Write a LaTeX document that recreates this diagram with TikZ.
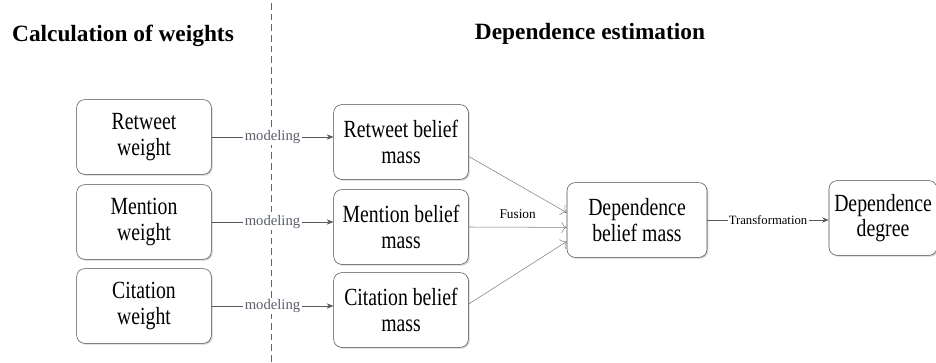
\documentclass[tikz,border=0pt]{standalone}
\usepackage{fontspec}
\setmainfont{Liberation Serif}
\newfontfamily\boxfont[FakeStretch=0.8]{Liberation Serif}
\usetikzlibrary{arrows.meta,shadows}

\definecolor{lblgray}{rgb}{0.35,0.37,0.42}

\begin{document}
\begin{tikzpicture}
  [
    x=0.75pt, y=-0.75pt,
    block/.style =
      {draw=black!70, fill=white, rounded corners=6pt, align=center,
       minimum width=101pt, minimum height=56pt, inner sep=2pt,
       font=\boxfont\fontsize{18.5}{19}\selectfont,
       drop shadow={shadow xshift=1pt, shadow yshift=-1pt, opacity=.35}},
    title/.style =
      {font=\bfseries\fontsize{17.5}{20}\selectfont},
    lbl/.style =
      {fill=white, inner sep=1pt, text=lblgray, font=\fontsize{11}{12}\selectfont},
    link/.style =
      {draw=black!65, -{Stealth[length=5pt, width=4pt]}}
  ]
  \useasboundingbox (0,0) rectangle (936,363);

  \node [title] at (123,36) (tl) {Calculation of weights};
  \node [title] at (590,34) (tr) {Dependence estimation};

  \draw [black!60, dash pattern=on 5pt off 3pt] (271,3) -- (271,363);

  \node [block] at (144,137) (rw) {Retweet\\weight};
  \node [block] at (144,222) (mw) {Mention\\weight};
  \node [block] at (144,306) (cw) {Citation\\weight};
  \node [block] at (401,142) (rb) {Retweet belief\\mass};
  \node [block] at (401,227) (mb) {Mention belief\\mass};
  \node [block] at (401,310) (cb) {Citation belief\\mass};
  \node [block, minimum width=105pt] at (637,220) (db) {Dependence\\belief mass};
  \node [block, minimum width=81pt]  at (883,218) (dd) {Dependence\\degree};

  \draw [link] (rw.east) -- node[lbl] {modeling} (rw.east-|rb.west);
  \draw [link] (mw.east) -- node[lbl] {modeling} (mw.east-|mb.west);
  \draw [link] (cw.east) -- node[lbl] {modeling} (cw.east-|cb.west);

  \draw [draw=black!50, -{To[length=4pt]}] (rb.-12)   -- (db.174);
  \draw [draw=black!50, -{To[length=4pt]}] (mb.east)  --
    node[above=3pt, font=\fontsize{10}{12}\selectfont] {Fusion} (db.186);
  \draw [draw=black!50, -{To[length=4pt]}] (cb.5)     -- (db.197);

  \draw [link] (db.east) --
    node[lbl, text=black, font=\fontsize{9.5}{11}\selectfont] {Transformation}
    (db.east-|dd.west);
\end{tikzpicture}
\end{document}
